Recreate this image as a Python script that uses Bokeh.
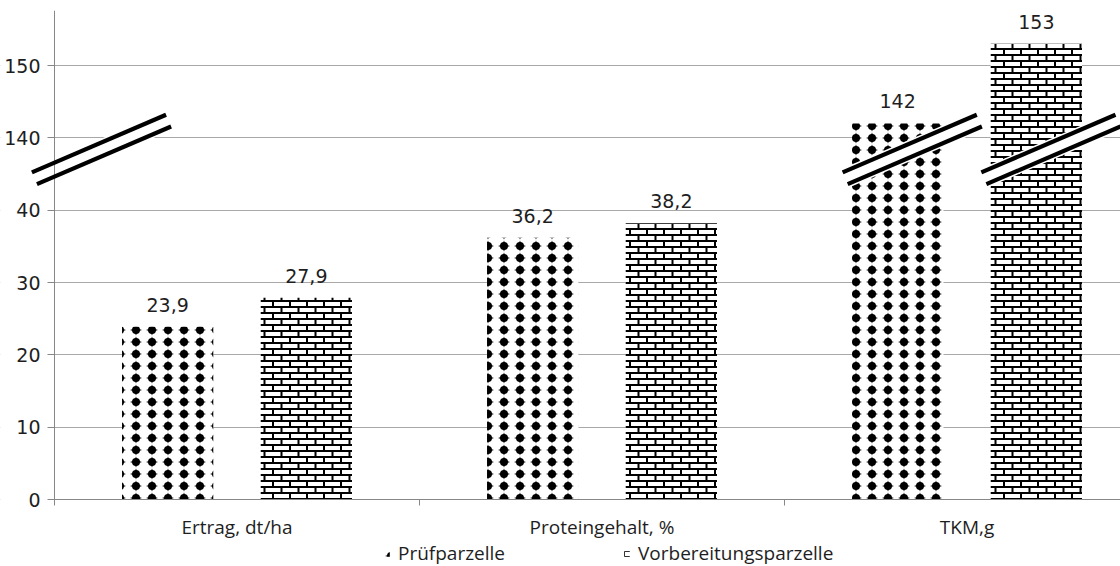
import base64
from bokeh.plotting import figure
from bokeh.models import (ColumnDataSource, FixedTicker, Range1d, Legend, LegendItem,
                          PolyAnnotation, BoxAnnotation, ImageURLTexture)
from bokeh.core.properties import value
from bokeh.embed import file_html
from bokeh.resources import INLINE

# ---------------- data ----------------
categories = ["Ertrag, dt/ha", "Proteingehalt, %", "TKM,g"]
series = ["Prüfparzelle", "Vorbereitungsparzelle"]
pruef = [23.9, 36.2, 142]
vorb = [27.9, 38.2, 153]
y_tick_values = [0, 10, 20, 30, 40, 140, 150]

# broken axis: values >= 100 are drawn shifted down by 90
BREAK_SHIFT = 90
AXIS_BREAK_AT = 48.4   # display position of the break marks


def disp(v):
    return v - BREAK_SHIFT if v >= 100 else v


def fmt(v):
    return f"{v:g}".replace(".", ",")


# ---------------- layout ----------------
W, H = 1120, 566
AXIS_X, FT = 54, 10               # pixel column of the y axis, top border
ZERO_Y = 499                      # pixel row of the value 0
PX_X = 365.0                      # px per category
PX_Y = 7.233                      # px per value unit
X_START = -AXIS_X / PX_X          # room left of the axis for tick labels
X_END = (W - AXIS_X) / PX_X
Y_END = (ZERO_Y - FT) / PX_Y
Y_START = -(H - ZERO_Y) / PX_Y    # room below the axis for labels + legend

AXIS_C = "#878787"
GRID_C = "#a8a8a8"
TEXT_C = "#1e1e1e"

p = figure(width=W, height=H, output_backend="svg", toolbar_location=None,
           x_range=Range1d(X_START, X_END), y_range=Range1d(Y_START, Y_END),
           min_border_left=0, min_border_right=0, min_border_top=FT,
           min_border_bottom=0)
p.outline_line_color = None
p.background_fill_color = "white"
p.border_fill_color = "white"
p.xgrid.grid_line_color = None
p.ygrid.grid_line_color = GRID_C

# hide grid lines left of the y axis
p.add_layout(BoxAnnotation(right=0, fill_color="white", fill_alpha=1,
                           line_color=None, level="underlay"))

# y axis (sits at x = 0 inside the frame)
p.yaxis.fixed_location = 0
p.yaxis.ticker = FixedTicker(ticks=[disp(t) for t in y_tick_values], minor_ticks=[])
p.yaxis.major_label_overrides = {disp(t): str(t) for t in y_tick_values}
p.yaxis.bounds = (0, Y_END)
p.yaxis.axis_line_color = AXIS_C
p.yaxis.major_tick_line_color = AXIS_C
p.yaxis.major_tick_out = 7
p.yaxis.major_tick_in = 0
p.yaxis.minor_tick_line_color = None
p.yaxis.major_label_standoff = 7
p.yaxis.major_label_text_font = "DejaVu Sans"
p.yaxis.major_label_text_font_size = "19px"
p.yaxis.major_label_text_color = TEXT_C

# x axis (sits at value 0 inside the frame)
centers = [i + 0.5 for i in range(len(categories))]
p.xaxis.fixed_location = 0
p.xaxis.bounds = (0, X_END)
p.xaxis.ticker = FixedTicker(ticks=centers, minor_ticks=list(range(len(categories) + 1)))
p.xaxis.major_label_overrides = {c: cat for c, cat in zip(centers, categories)}
p.xaxis.axis_line_color = AXIS_C
p.xaxis.major_tick_line_color = None
p.xaxis.major_tick_out = 0
p.xaxis.major_tick_in = 0
p.xaxis.minor_tick_line_color = AXIS_C
p.xaxis.minor_tick_out = 6
p.xaxis.minor_tick_in = 0
p.xaxis.major_label_standoff = 8
p.xaxis.major_label_text_font = "Open Sans"
p.xaxis.major_label_text_font_size = "19px"
p.xaxis.major_label_text_color = TEXT_C

# ---------------- textures ----------------
dot_svg = ("<svg xmlns='http://www.w3.org/2000/svg' width='16' height='12'>"
           "<rect width='16' height='12' fill='white'/>"
           "<polygon points='2,6 6.4,4.6 8,0.4 9.6,4.6 14,6 9.6,7.4 8,11.6 6.4,7.4' fill='black'/>"
           "<circle cx='8' cy='6' r='4' fill='black'/></svg>")
brick_svg = ("<svg xmlns='http://www.w3.org/2000/svg' width='17' height='12'>"
             "<rect width='17' height='12' fill='white'/>"
             "<rect x='0' y='0' width='17' height='2' fill='black'/>"
             "<rect x='0' y='6' width='17' height='2' fill='black'/>"
             "<rect x='0' y='0' width='2' height='6' fill='black'/>"
             "<rect x='8.5' y='6' width='2' height='6' fill='black'/></svg>")


def data_url(s):
    return "data:image/svg+xml;base64," + base64.b64encode(s.encode()).decode()


dot_tex = ImageURLTexture(url=data_url(dot_svg))
brick_tex = ImageURLTexture(url=data_url(brick_svg))

# ---------------- bars ----------------
OFF, BW = 0.19, 0.25
src_p = ColumnDataSource(dict(x=[c - OFF for c in centers],
                              top=[disp(v) for v in pruef],
                              label=[fmt(v) for v in pruef]))
src_v = ColumnDataSource(dict(x=[c + OFF for c in centers],
                              top=[disp(v) for v in vorb],
                              label=[fmt(v) for v in vorb]))

r1 = p.vbar(x="x", top="top", bottom=0, width=BW, source=src_p, fill_color="white",
            line_color=None, hatch_pattern=value("dots"),
            hatch_extra={"dots": dot_tex})
r2 = p.vbar(x="x", top="top", bottom=0, width=BW, source=src_v, fill_color="white",
            line_color=None, hatch_pattern=value("bricks"),
            hatch_extra={"bricks": brick_tex})

for src in (src_p, src_v):
    p.text(x="x", y="top", text="label", source=src, text_align="center",
           text_baseline="alphabetic", y_offset=-22,
           text_font=value("DejaVu Sans"), text_font_size="19px",
           text_color=TEXT_C)

# ---------------- break marks ----------------
DIR = (0.919, 0.395)     # along the mark (y up)
NRM = (0.395, -0.919)    # across the mark
HALF_LEN, GAP, LW, MASK = 73.0, 6.4, 4.2, 10.0


def pt(cx, cy, a, b):
    return (cx + (a * DIR[0] + b * NRM[0]) / PX_X,
            cy + (a * DIR[1] + b * NRM[1]) / PX_Y)


def quad(cx, cy, b0, b1):
    pts = [pt(cx, cy, -HALF_LEN, b0), pt(cx, cy, HALF_LEN, b0),
           pt(cx, cy, HALF_LEN, b1), pt(cx, cy, -HALF_LEN, b1)]
    return [q[0] for q in pts], [q[1] for q in pts]


def add_break(cx, cy, mask_level):
    xs, ys = quad(cx, cy, -MASK, MASK)
    p.add_layout(PolyAnnotation(xs=xs, ys=ys, fill_color="white", fill_alpha=1,
                                line_color=None, level=mask_level))
    for s in (-1, 1):
        xs, ys = quad(cx, cy, s * GAP - LW / 2, s * GAP + LW / 2)
        p.add_layout(PolyAnnotation(xs=xs, ys=ys, fill_color="black", fill_alpha=1,
                                    line_color=None, level="annotation"))


add_break(47.0 / PX_X, AXIS_BREAK_AT, "underlay")
add_break(centers[2] - OFF + 0.04, AXIS_BREAK_AT, "annotation")
add_break(centers[2] + OFF + 0.04, AXIS_BREAK_AT, "annotation")

# ---------------- legend ----------------
legend = Legend(items=[LegendItem(label=series[0], renderers=[r1]),
                       LegendItem(label=series[1], renderers=[r2])],
                orientation="horizontal", location=(383, 0),
                glyph_width=7, glyph_height=7, label_standoff=8, spacing=118,
                padding=0, margin=0, border_line_color=None,
                background_fill_alpha=0,
                label_text_font="Open Sans", label_text_font_size="19px",
                label_text_color=TEXT_C)
p.add_layout(legend, "center")

open("out.html", "w").write(file_html(p, INLINE))
